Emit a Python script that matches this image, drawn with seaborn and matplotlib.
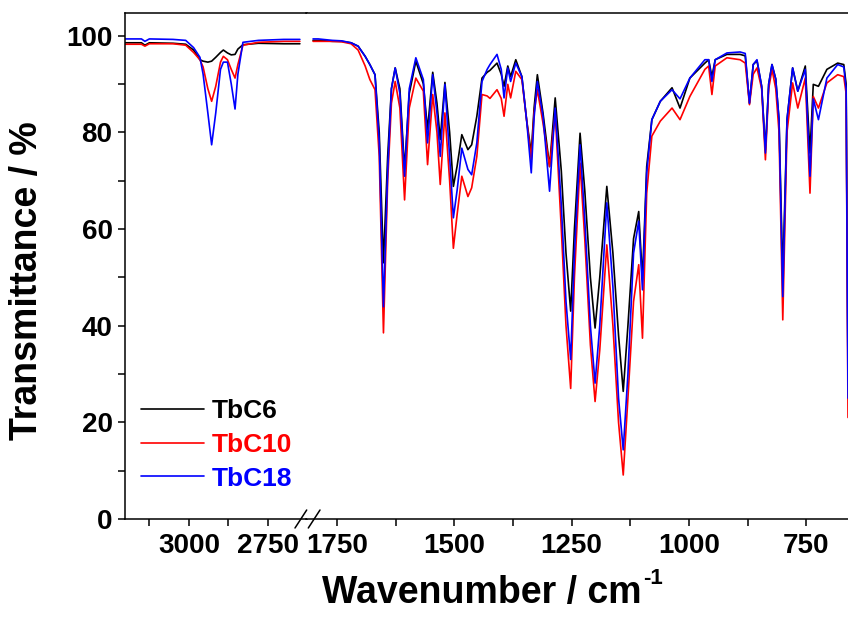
import numpy as np
import pandas as pd
import matplotlib
matplotlib.use("Agg")
import matplotlib.pyplot as plt
import seaborn as sns
from matplotlib.lines import Line2D

# ---------------- data ----------------
series_names = ["TbC6", "TbC10", "TbC18"]
series_colors = ["#000000", "#ff0000", "#0000ff"]

# high-wavenumber segment (C-H stretch region)
wn_high = [3200, 3150, 3139, 3125, 3050, 3010, 2985, 2965, 2955, 2940, 2928,
           2915, 2900, 2891, 2878, 2866, 2854, 2845, 2829, 2780, 2700, 2649]
tbc6_high = [98.5, 98.5, 98.0, 98.5, 98.4, 98.2, 97.0, 95.0, 94.7, 94.5, 94.7,
             95.5, 96.5, 97.0, 96.4, 96.0, 96.1, 97.2, 98.1, 98.4, 98.3, 98.3]
tbc10_high = [98.2, 98.2, 97.8, 98.3, 98.3, 98.0, 96.5, 95.0, 93.5, 89.0, 86.4,
              89.5, 94.5, 95.7, 95.0, 93.0, 91.2, 94.0, 98.0, 98.6, 98.8, 98.8]
tbc18_high = [99.3, 99.3, 98.8, 99.3, 99.2, 99.0, 97.5, 95.5, 92.0, 84.0, 77.4,
              84.0, 93.0, 94.5, 94.5, 90.0, 84.8, 92.0, 98.6, 99.0, 99.2, 99.2]

# fingerprint segment
wn_low = [1801, 1790, 1760, 1740, 1720, 1705, 1690, 1680, 1669, 1660, 1651,
          1642, 1634, 1626, 1616, 1606, 1596, 1582, 1566, 1557, 1546, 1537,
          1530, 1520, 1510, 1502, 1494, 1484, 1471, 1463, 1452, 1441, 1430,
          1424, 1409, 1400, 1394, 1386, 1380, 1369, 1356, 1346, 1336, 1330,
          1323, 1311, 1297, 1285, 1272, 1262, 1252, 1244, 1232, 1222, 1210,
          1200, 1190, 1175, 1162, 1150, 1140, 1130, 1118, 1107, 1099, 1090,
          1079, 1061, 1036, 1019, 998, 966, 958, 951, 944, 919, 891, 880,
          871, 863, 855, 845, 837, 830, 823, 815, 808, 800, 791, 779, 768,
          752, 742, 735, 724, 706, 683, 670, 665, 661]
tbc6_low = [99.0, 99.0, 98.8, 98.8, 98.5, 97.8, 95.7, 94.0, 91.9, 80.0, 53.0,
            75.0, 89.0, 93.3, 89.0, 72.3, 88.0, 94.7, 90.0, 80.5, 92.4, 86.0,
            78.5, 90.3, 80.0, 68.8, 73.0, 79.5, 76.4, 77.4, 83.3, 91.2, 92.4,
            92.8, 94.3, 92.0, 89.5, 93.7, 91.5, 95.0, 91.5, 82.6, 75.7, 85.0,
            91.9, 84.0, 72.9, 87.1, 72.0, 55.0, 43.0, 60.0, 79.8, 68.0, 50.0,
            39.5, 50.0, 68.8, 55.0, 38.0, 26.4, 40.0, 58.0, 63.6, 49.5, 72.9,
            82.6, 86.4, 89.2, 85.0, 91.2, 94.3, 95.0, 91.5, 95.0, 96.1, 96.1, 95.8,
            86.0, 94.0, 94.8, 89.5, 76.4, 90.0, 94.0, 91.0, 82.6, 50.2, 82.6, 93.3, 88.5,
            93.7, 75.7, 89.9, 89.5, 93.0, 94.3, 94.0, 90.0, 30.0]
tbc10_low = [98.8, 98.8, 98.8, 98.7, 98.3, 97.0, 93.7, 90.9, 88.8, 75.0, 38.5,
             70.0, 86.0, 90.5, 85.0, 66.0, 85.0, 91.2, 88.5, 73.3, 87.8, 80.0,
             69.2, 84.0, 70.0, 56.0, 63.0, 70.9, 66.7, 68.5, 75.0, 87.8, 87.5,
             87.0, 88.8, 87.0, 83.3, 89.9, 87.1, 92.6, 90.9, 82.6, 74.3, 84.0,
             88.8, 81.9, 72.9, 84.0, 60.0, 40.0, 27.0, 50.0, 73.6, 58.0, 36.0,
             24.3, 35.0, 56.7, 40.0, 20.0, 9.1, 25.0, 45.0, 52.6, 37.4, 67.4,
             79.2, 82.3, 85.0, 82.6, 87.4, 93.0, 93.7, 87.8, 93.7, 95.4, 95.0, 94.3,
             85.7, 92.0, 93.3, 89.0, 74.3, 89.0, 93.0, 89.0, 80.0, 41.2, 80.0, 90.2, 85.0,
             91.2, 67.4, 87.4, 85.0, 90.2, 91.9, 91.5, 88.0, 21.0]
tbc18_low = [99.3, 99.3, 99.0, 98.9, 98.5, 97.8, 95.7, 94.0, 91.9, 78.0, 43.9,
             72.0, 89.0, 93.3, 88.0, 70.9, 89.0, 95.4, 90.9, 77.8, 91.9, 84.0,
             75.0, 89.9, 75.0, 62.3, 68.0, 76.7, 72.3, 71.2, 77.8, 90.5, 93.0,
             94.0, 96.1, 93.0, 87.1, 93.3, 90.5, 94.3, 91.5, 82.6, 71.6, 83.0,
             90.5, 83.3, 67.8, 85.0, 65.0, 45.0, 33.0, 55.0, 77.4, 62.0, 40.0,
             28.1, 40.0, 65.4, 48.0, 25.0, 14.3, 30.0, 55.0, 61.6, 47.4, 71.6,
             82.6, 86.4, 88.8, 86.9, 91.2, 95.0, 95.0, 90.5, 95.0, 96.4, 96.6, 96.3,
             86.0, 94.0, 95.0, 89.5, 75.7, 90.0, 94.0, 91.0, 82.6, 46.0, 82.6, 93.3, 88.5,
             93.0, 70.9, 86.9, 82.6, 91.2, 94.0, 93.5, 89.0, 25.0]

x_major_high = [3000, 2750]
x_minor_high = [3125, 2875]
x_major_low = [1750, 1500, 1250, 1000, 750]
x_minor_low = [1625, 1375, 1125, 875]
y_major = [0, 20, 40, 60, 80, 100]
y_minor = [10, 30, 50, 70, 90]

# ---------------- style ----------------
sns.set_theme(style="ticks")
plt.rcParams["font.family"] = ["Liberation Sans", "DejaVu Sans"]
plt.rcParams["font.weight"] = "bold"
plt.rcParams["text.color"] = "black"
plt.rcParams["axes.labelcolor"] = "black"
plt.rcParams["xtick.color"] = "black"
plt.rcParams["ytick.color"] = "black"
plt.rcParams["axes.edgecolor"] = "black"
plt.rcParams["axes.linewidth"] = 1.1

W, H = 848, 617
fig = plt.figure(figsize=(W / 100, H / 100), dpi=100)


def fx(px):
    return px / W


def fy(py):
    return 1 - py / H


top_px, bot_px, left_px, split_px = 13.3, 519, 125, 306.5
ax1 = fig.add_axes([fx(left_px), fy(bot_px), fx(split_px) - fx(left_px), (bot_px - top_px) / H])
ax2 = fig.add_axes([fx(split_px), fy(bot_px), 1 - fx(split_px), (bot_px - top_px) / H])


def long_df(wn, cols):
    frames = [pd.DataFrame({"wn": wn, "T": vals, "sample": name})
              for name, vals in zip(series_names, cols)]
    return pd.concat(frames, ignore_index=True)


df_high = long_df(wn_high, [tbc6_high, tbc10_high, tbc18_high])
df_low = long_df(wn_low, [tbc6_low, tbc10_low, tbc18_low])
palette = dict(zip(series_names, series_colors))

for ax, df in ((ax1, df_high), (ax2, df_low)):
    sns.lineplot(data=df, x="wn", y="T", hue="sample", hue_order=series_names,
                 palette=palette, linewidth=1.2, legend=False, ax=ax,
                 sort=False, estimator=None)
    ax.set_xlabel("")
    ax.set_ylabel("")
    ax.set_ylim(0, 104.6)
    ax.tick_params(axis="both", which="both", direction="out", length=5,
                   width=1.1, labelsize=20, colors="black")

ax1.set_xlim(3202, 2628)
ax2.set_xlim(1815, 661)

ax1.set_xticks(x_major_high)
ax1.set_xticks(x_minor_high, minor=True)
ax2.set_xticks(x_major_low)
ax2.set_xticks(x_minor_low, minor=True)
ax1.set_yticks(y_major)
ax1.set_yticks(y_minor, minor=True)
ax1.set_xticklabels([str(v) for v in x_major_high], fontweight="bold", fontsize=20)
ax2.set_xticklabels([str(v) for v in x_major_low], fontweight="bold", fontsize=20)
ax1.set_yticklabels([str(v) for v in y_major], fontweight="bold", fontsize=20)
ax1.tick_params(axis="x", which="both", pad=5)
ax2.tick_params(axis="x", which="both", pad=5)
ax1.tick_params(axis="y", which="both", pad=4)
ax2.tick_params(axis="y", which="both", left=False, labelleft=False)

ax1.spines["right"].set_visible(False)
ax2.spines["left"].set_visible(False)
ax2.spines["right"].set_visible(False)
for ax in (ax1, ax2):
    for s in ax.spines.values():
        s.set_color("black")

# axis break marks
for x0, x1 in ((295, 306.7), (308.3, 320)):
    fig.add_artist(Line2D([fx(x0), fx(x1)], [fy(528), fy(510)], color="black",
                          lw=1.1, transform=fig.transFigure))

# axis labels
fig.text(fx(27), fy(281), "Transmittance / %", rotation=90, ha="center",
         va="center", fontsize=27, fontweight="bold", color="black")
fig.text(fx(482), fy(603), "Wavenumber / cm", ha="center",
         va="baseline", fontsize=27, fontweight="bold", color="black")
fig.text(fx(643), fy(584), "-1", ha="left", va="baseline", fontsize=16,
         fontweight="bold", color="black")

# legend
handles = [Line2D([0], [0], color=c, lw=1.2) for c in series_colors]
leg = fig.legend(handles, series_names, loc="upper left",
                 bbox_to_anchor=(fx(141), fy(399)), bbox_transform=fig.transFigure,
                 frameon=False, prop={"size": 19, "weight": "bold"},
                 handlelength=2.4, handletextpad=0.3, labelspacing=0.37,
                 borderpad=0, borderaxespad=0)
for txt, c in zip(leg.get_texts(), series_colors):
    txt.set_color(c)

fig.savefig("out.png", dpi=100)
